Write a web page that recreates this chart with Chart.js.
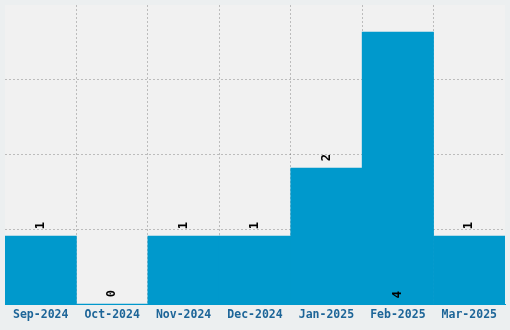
<!DOCTYPE html>
<html>
<head>
<meta charset="utf-8">
<script src="https://cdn.jsdelivr.net/npm/chart.js@4"></script>
<style>
  html, body { margin: 0; padding: 0; background: #ECEFF0; }
  #wrap { width: 510px; height: 330px; }
</style>
</head>
<body>
<div id="wrap"><canvas id="chart"></canvas></div>
<script>
const months = ["Sep-2024", "Oct-2024", "Nov-2024", "Dec-2024", "Jan-2025", "Feb-2025", "Mar-2025"];
const counts = [1, 0, 1, 1, 2, 4, 1];

const barColor = '#0099CC';
const gridColor = 'rgba(0,0,0,0.22)';

// fill the plot area a bit lighter than the page
const areaBg = {
    id: 'areaBg',
    beforeDraw(chart) {
        const {ctx, chartArea: a} = chart;
        ctx.save();
        ctx.fillStyle = '#F1F1F1';
        ctx.fillRect(a.left, a.top, a.right - a.left, a.bottom - a.top);
        ctx.restore();
    }
};

// rotated value labels above each bar (the tallest one goes at the foot)
const valueLabels = {
    id: 'valueLabels',
    afterDraw(chart) {
        const {ctx} = chart;
        const yScale = chart.scales.y;
        const meta = chart.getDatasetMeta(0);
        ctx.save();
        ctx.font = 'bold 12px "DejaVu Sans Mono"';
        ctx.fillStyle = '#000';
        ctx.textAlign = 'center';
        ctx.textBaseline = 'middle';
        meta.data.forEach((bar, i) => {
            const v = counts[i];
            let y = bar.y - 10.5;
            if (v / yScale.max > 0.8) y = bar.base - 9;
            ctx.save();
            ctx.translate(bar.x, y);
            ctx.rotate(-Math.PI / 2);
            ctx.fillText(String(v), 0, 0);
            ctx.restore();
        });
        ctx.restore();
    }
};

new Chart(document.getElementById('chart').getContext('2d'), {
    type: 'bar',
    data: {
        labels: months,
        datasets: [{
            data: counts,
            backgroundColor: barColor,
            barPercentage: 1.0,
            categoryPercentage: 1.0
        }]
    },
    options: {
        responsive: true,
        maintainAspectRatio: false,
        animation: false,
        layout: { padding: { left: 5, right: 5, top: 5, bottom: 4 } },
        plugins: {
            legend: { display: false },
            tooltip: { enabled: false }
        },
        scales: {
            x: {
                z: 1,
                grid: {
                    offset: true,
                    drawTicks: false,
                    color: c => (c.type === 'tick' && c.index > 0) ? gridColor : 'transparent'
                },
                border: { display: true, color: barColor, width: 1, dash: [2, 2] },
                ticks: {
                    padding: 4,
                    color: '#1d6598',
                    font: { family: '"DejaVu Sans Mono"', size: 11.5, weight: 'bold' },
                    maxRotation: 0
                }
            },
            y: {
                z: 1,
                min: 0,
                max: 4.4,
                grid: {
                    drawTicks: false,
                    color: c => (c.index > 0 && c.index < 4) ? gridColor : 'transparent'
                },
                border: { display: false, dash: [2, 2] },
                ticks: { display: false, count: 5 }
            }
        }
    },
    plugins: [areaBg, valueLabels]
});
</script>
</body>
</html>
